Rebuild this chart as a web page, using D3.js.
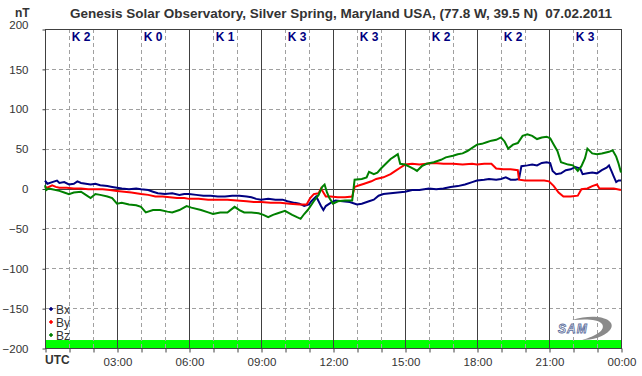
<!DOCTYPE html>
<html>
<head>
<meta charset="utf-8">
<script src="https://cdn.jsdelivr.net/npm/d3@7"></script>
<style>
  body { margin: 0; background: #fff; }
  svg { font-family: "Liberation Sans", Arial, sans-serif; }
</style>
</head>
<body>
<svg></svg>
<script>
'use strict';

// readings taken off the magnetometer plot: [hour UTC, nT]
var bxData = [[0,10],[0.1,6],[0.3,8],[0.5,10],[0.6,7],[0.8,8],[1.0,5],[1.2,6],[1.35,9],[1.5,7],[1.7,6],[1.9,5],[2.1,6],[2.3,4],[2.6,3],[2.8,2],[3.0,1],[3.2,0],[3.5,-1],[3.8,0],[4.0,-1],[4.3,-2],[4.5,-4],[4.7,-6],[5.0,-7],[5.3,-6],[5.6,-8],[5.8,-7],[6.0,-7],[6.3,-8],[6.6,-9],[6.9,-9],[7.2,-10],[7.5,-10],[7.8,-9],[8.1,-9],[8.4,-10],[8.6,-11],[8.8,-13],[9.0,-14],[9.3,-13],[9.6,-14],[9.9,-14],[10.1,-16],[10.4,-18],[10.6,-19],[10.8,-22],[11.0,-20],[11.1,-16],[11.3,-10],[11.5,-22],[11.6,-27],[11.7,-22],[11.9,-18],[12.1,-15],[12.4,-16],[12.7,-17],[13.0,-20],[13.2,-19],[13.5,-16],[13.7,-14],[13.9,-9],[14.1,-7],[14.4,-6],[14.7,-5],[15.0,-4],[15.3,-2],[15.6,-2],[16.0,0],[16.3,-1],[16.6,0],[16.9,2],[17.2,3],[17.5,5],[17.8,8],[18.0,10],[18.3,11],[18.5,12],[18.8,11],[19.0,12],[19.2,14],[19.4,11],[19.6,11],[19.75,12],[19.85,28],[20.1,29],[20.3,30],[20.5,29],[20.7,32],[20.9,33],[21.05,32],[21.15,22],[21.3,18],[21.5,19],[21.7,23],[21.9,24],[22.1,27],[22.3,25],[22.4,18],[22.6,19],[22.8,20],[23.0,19],[23.2,23],[23.4,26],[23.5,29],[23.6,22],[23.7,15],[23.8,8],[23.9,10],[24.0,10]];

var byData = [[0,2],[0.1,1],[0.3,4],[0.45,2],[0.6,1],[0.9,1],[1.2,0],[1.5,0],[1.8,-1],[2.1,-1],[2.4,-1],[2.7,-2],[3.0,-3],[3.3,-4],[3.6,-5],[4.0,-7],[4.3,-8],[4.6,-10],[4.9,-10],[5.2,-11],[5.5,-12],[5.8,-12],[6.0,-13],[6.4,-13],[6.8,-14],[7.2,-14],[7.6,-14],[8.0,-15],[8.4,-16],[8.7,-17],[9.0,-17],[9.4,-18],[9.8,-18],[10.2,-19],[10.6,-20],[10.9,-20],[11.05,-12],[11.2,-7],[11.4,-6],[11.5,0],[11.6,-5],[11.7,-10],[11.9,-10],[12.2,-11],[12.5,-11],[12.8,-10],[12.9,2],[13.1,4],[13.3,6],[13.6,9],[13.8,12],[14.1,14],[14.4,18],[14.6,22],[14.8,26],[15.0,30],[15.3,31],[15.6,30],[15.9,31],[16.2,32],[16.6,31],[17.0,31],[17.4,30],[17.8,31],[18.0,30],[18.3,31],[18.6,31],[18.8,25],[19.1,24],[19.4,24],[19.7,23],[19.75,11],[20.0,10],[20.4,10],[20.8,10],[21.0,9],[21.2,3],[21.4,-5],[21.6,-10],[21.9,-10],[22.2,-9],[22.35,-1],[22.6,0],[22.8,3],[23.0,5],[23.1,0],[23.4,0],[23.7,0],[24.0,-2]];

var bzData = [[0,4],[0.05,-2],[0.15,0],[0.3,-1],[0.6,-3],[0.8,-5],[1.0,-7],[1.2,-5],[1.5,-4],[1.7,-8],[1.9,-12],[2.1,-7],[2.3,-8],[2.6,-10],[2.8,-12],[3.0,-19],[3.2,-18],[3.5,-20],[3.8,-21],[4.0,-23],[4.2,-30],[4.5,-27],[4.8,-27],[5.1,-29],[5.3,-30],[5.6,-27],[5.9,-22],[6.1,-24],[6.5,-27],[6.8,-30],[7.0,-32],[7.3,-30],[7.6,-30],[7.9,-23],[8.1,-27],[8.3,-30],[8.6,-30],[8.9,-31],[9.1,-33],[9.3,-36],[9.5,-33],[9.7,-31],[10.0,-28],[10.3,-33],[10.5,-36],[10.65,-38],[10.8,-32],[10.95,-27],[11.2,-16],[11.4,-8],[11.55,2],[11.65,5],[11.75,-5],[11.85,-12],[12.0,-19],[12.2,-16],[12.5,-15],[12.8,-15],[12.9,11],[13.2,12],[13.4,14],[13.5,21],[13.7,18],[13.85,20],[14.0,25],[14.2,31],[14.4,37],[14.55,40],[14.7,43],[14.8,31],[15.0,30],[15.2,27],[15.4,24],[15.5,22],[15.7,28],[15.9,31],[16.2,33],[16.5,36],[16.7,39],[17.0,41],[17.2,43],[17.4,44],[17.6,47],[17.8,51],[18.0,55],[18.2,56],[18.4,58],[18.6,60],[18.8,61],[19.0,64],[19.15,59],[19.3,50],[19.5,55],[19.7,57],[19.9,66],[20.1,68],[20.3,66],[20.5,62],[20.7,64],[20.9,65],[21.05,63],[21.2,55],[21.35,47],[21.5,33],[21.8,30],[22.0,29],[22.2,22],[22.35,28],[22.5,38],[22.6,50],[22.8,44],[23.0,43],[23.2,44],[23.5,46],[23.65,48],[23.8,40],[23.9,31],[24.0,20]];

// K index for each 3 hour block
var kIndex = ['K 2', 'K 0', 'K 1', 'K 3', 'K 3', 'K 2', 'K 2', 'K 3'];

var hourLabels = ['03:00', '06:00', '09:00', '12:00', '15:00', '18:00', '21:00', '00:00'];
var yTicks = [200, 150, 100, 50, 0, -50, -100, -150, -200];

var series = [
    {name: 'Bx', data: bxData, color: '#000080'},
    {name: 'By', data: byData, color: '#ff0000'},
    {name: 'Bz', data: bzData, color: '#008000'}
];

var width = 642;
var height = 376;
var plotLeft = 45, plotRight = 621, plotTop = 29, plotBottom = 348;

var svg = d3.select('svg')
    .attr('width', width)
    .attr('height', height);

var x = d3.scaleLinear().domain([0, 24]).range([plotLeft, plotRight]);
var y = d3.scaleLinear().domain([-200, 200]).range([plotBottom, plotTop]);

// title and unit
svg.append('text')
    .attr('x', 341).attr('y', 18)
    .attr('text-anchor', 'middle')
    .style('white-space', 'pre')
    .style('font-size', '13.5px').style('font-weight', 'bold').style('fill', '#333')
    .text('Genesis Solar Observatory, Silver Spring, Maryland USA, (77.8 W, 39.5 N)  07.02.2011');
svg.append('text')
    .attr('x', 15).attr('y', 17)
    .style('font-size', '12px').style('font-weight', 'bold').style('fill', '#333')
    .text('nT');

// green strip along the bottom
svg.append('rect')
    .attr('x', x(0)).attr('y', y(-190))
    .attr('width', x(24) - x(0)).attr('height', y(-200) - y(-190))
    .attr('fill', '#00ff00');

var grid = svg.append('g').attr('class', 'grid');

// dashed horizontal grid
grid.selectAll('line.h')
    .data(yTicks.filter(function(d) { return d !== 0 && d !== 200 && d !== -200; }))
    .enter().append('line')
    .attr('class', 'h')
    .attr('x1', x(0)).attr('x2', x(24))
    .attr('y1', function(d) { return Math.round(y(d)) + 0.5; })
    .attr('y2', function(d) { return Math.round(y(d)) + 0.5; })
    .attr('stroke', '#a0a0a0').attr('stroke-dasharray', '4,3');

// hourly dashed lines, solid every 3 hours
var hours = d3.range(1, 24);
grid.selectAll('line.v')
    .data(hours)
    .enter().append('line')
    .attr('class', 'v')
    .attr('x1', function(d) { return Math.round(x(d)) + 0.5; })
    .attr('x2', function(d) { return Math.round(x(d)) + 0.5; })
    .attr('y1', y(200)).attr('y2', y(-200))
    .attr('stroke', function(d) { return d % 3 === 0 ? '#404040' : '#a0a0a0'; })
    .attr('stroke-dasharray', function(d) { return d % 3 === 0 ? null : '4,3'; });

// zero line
grid.append('line')
    .attr('x1', x(0)).attr('x2', x(24))
    .attr('y1', Math.round(y(0)) + 0.5).attr('y2', Math.round(y(0)) + 0.5)
    .attr('stroke', '#404040');

// plot frame
svg.append('rect')
    .attr('x', x(0) + 0.5).attr('y', y(200) + 0.5)
    .attr('width', x(24) - x(0)).attr('height', y(-200) - y(200))
    .attr('fill', 'none').attr('stroke', '#404040');

// K index labels
svg.selectAll('text.k')
    .data(kIndex)
    .enter().append('text')
    .attr('class', 'k')
    .attr('x', function(d, i) { return x(i * 3 + 1.5); })
    .attr('y', y(200) + 12)
    .attr('text-anchor', 'middle')
    .style('font-size', '12px').style('font-weight', 'bold').style('fill', '#000080')
    .text(function(d) { return d; });

// y axis
var yAxis = d3.axisLeft(y).tickValues(yTicks).tickSize(3).tickPadding(14);
var yG = svg.append('g')
    .attr('transform', 'translate(' + (x(0) + 0.5) + ',0.5)')
    .call(yAxis);
yG.select('.domain').remove();
yG.selectAll('line').attr('stroke', '#404040');
yG.selectAll('text')
    .style('font-size', '11.5px').style('fill', '#333')
    .style('font-family', '"Liberation Sans", Arial, sans-serif');
// the top label sits a little above its line
yG.selectAll('.tick').filter(function(d) { return d === 200; })
    .select('text').attr('dy', '-0.05em');

// x axis
var xAxis = d3.axisBottom(x)
    .tickValues(d3.range(0, 25))
    .tickSize(4).tickPadding(5)
    .tickFormat(function(d) { return d > 0 && d % 3 === 0 ? hourLabels[d / 3 - 1] : ''; });
var xG = svg.append('g')
    .attr('transform', 'translate(0.5,' + (y(-200) + 0.5) + ')')
    .call(xAxis);
xG.select('.domain').remove();
xG.selectAll('line').attr('stroke', '#404040');
xG.selectAll('text')
    .style('font-size', '11.5px').style('fill', '#333')
    .style('font-family', '"Liberation Sans", Arial, sans-serif');

svg.append('text')
    .attr('x', x(0)).attr('y', 364)
    .style('font-size', '12px').style('font-weight', 'bold').style('fill', '#333')
    .text('UTC');

// data lines
var line = d3.line()
    .x(function(d) { return x(d[0]); })
    .y(function(d) { return y(d[1]); });

svg.append('g').attr('class', 'lines')
    .selectAll('path')
    .data(series)
    .enter().append('path')
    .attr('d', function(d) { return line(d.data); })
    .attr('fill', 'none')
    .attr('stroke', function(d) { return d.color; })
    .attr('stroke-width', 2)
    .attr('stroke-linejoin', 'miter');

// legend
var legend = svg.append('g').attr('class', 'legend')
    .selectAll('g')
    .data(series)
    .enter().append('g')
    .attr('transform', function(d, i) { return 'translate(' + (x(0) + 6) + ',' + (309 + i * 13) + ')'; });
legend.append('path')
    .attr('d', 'M-2,0L0,-2L2,0L0,2Z')
    .attr('fill', function(d) { return d.color; })
    .attr('stroke', function(d) { return d.color; })
    .attr('stroke-width', 0.5);
legend.append('text')
    .attr('x', 5).attr('y', 4.5)
    .style('font-size', '12px').style('fill', '#333')
    .text(function(d) { return d.name; });

// SAM logo, roughly
var logo = svg.append('g').attr('transform', 'translate(558,318)');
logo.append('path')
    .attr('d', 'M14,2 C40,-6 60,2 52,12 C46,19 34,22 24,22 C38,18 48,12 44,6 C40,1 28,1 14,2 Z')
    .attr('fill', '#8a8a8a');
logo.append('text')
    .attr('x', 0).attr('y', 15)
    .style('font-size', '12px').style('font-weight', 'bold').style('font-style', 'italic')
    .style('fill', '#f4f4f4').style('stroke', '#6070a0').style('stroke-width', 0.8)
    .style('letter-spacing', '1px')
    .text('SAM');
</script>
</body>
</html>
